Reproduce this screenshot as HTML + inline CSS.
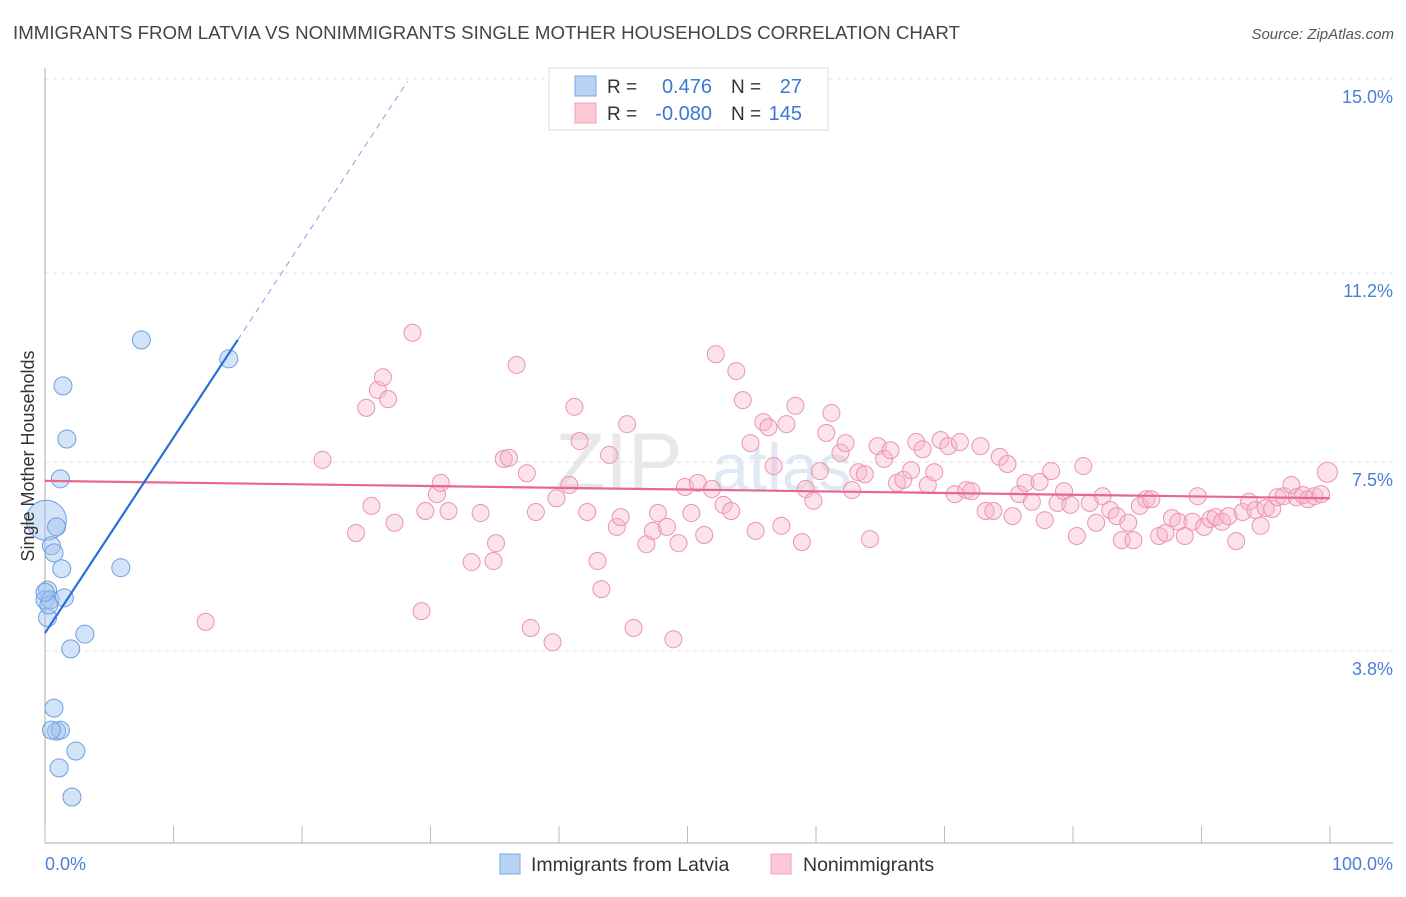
<!DOCTYPE html>
<html><head><meta charset="utf-8"><style>
body{margin:0;background:#fff;font-family:"Liberation Sans",sans-serif;}
svg text{font-family:"Liberation Sans",sans-serif;}
</style></head><body>
<svg id="chart" width="1406" height="892" xmlns="http://www.w3.org/2000/svg">
<text x="13" y="39" font-size="18.7" fill="#444">IMMIGRANTS FROM LATVIA VS NONIMMIGRANTS SINGLE MOTHER HOUSEHOLDS CORRELATION CHART</text>
<text x="1394" y="39" font-size="15" fill="#555" text-anchor="end" font-style="italic">Source: ZipAtlas.com</text>
<text x="555" y="490" font-size="82" fill="#e8e8e8" font-family="Liberation Serif">ZIP</text>
<text x="712" y="490" font-size="66" fill="#dfe8f5">atlas</text>
<g id="grid"></g>
<line x1="45" y1="68" x2="45" y2="843" stroke="#aaa" stroke-width="1"/>
<line x1="45" y1="843" x2="1393" y2="843" stroke="#aaa" stroke-width="1"/>
<g id="xticks"></g>
<g id="pts"></g>
<g id="lines"></g>
<text transform="translate(34,456) rotate(-90)" font-size="18" fill="#333" text-anchor="middle">Single Mother Households</text>
<text x="45" y="870" font-size="18" fill="#4a7fd4">0.0%</text>
<text x="1393" y="870" font-size="18" fill="#4a7fd4" text-anchor="end">100.0%</text>
<g>
<rect x="549" y="68" width="279" height="62" fill="#fff" stroke="#ddd"/>
<rect x="575" y="76" width="21" height="20" fill="#b8d2f4" stroke="#7aa8e4"/>
<rect x="575" y="103" width="21" height="20" fill="#fcc8d6" stroke="#f0a0b8"/>
<text x="607" y="93" font-size="19" fill="#333">R =</text>
<text x="712" y="93" font-size="20" fill="#3a78d8" text-anchor="end">0.476</text>
<text x="731" y="93" font-size="19" fill="#333">N =</text>
<text x="802" y="93" font-size="20" fill="#3a78d8" text-anchor="end">27</text>
<text x="607" y="120" font-size="19" fill="#333">R =</text>
<text x="712" y="120" font-size="20" fill="#3a78d8" text-anchor="end">-0.080</text>
<text x="731" y="120" font-size="19" fill="#333">N =</text>
<text x="802" y="120" font-size="20" fill="#3a78d8" text-anchor="end">145</text>
</g>
<g><rect x="500" y="854" width="20" height="20" fill="#b8d2f4" stroke="#7aa8e4"/><text x="531" y="871" font-size="19.5" fill="#333">Immigrants from Latvia</text></g>
<g><rect x="771" y="854" width="20" height="20" fill="#fcc8d6" stroke="#f0a0b8"/><text x="803" y="871" font-size="19.5" fill="#333">Nonimmigrants</text></g>
</svg>
<script>
const yTicks=[3.8,7.5,11.2,15.0];
const yTickLabels=["3.8%","7.5%","11.2%","15.0%"];
const xTicks=[0,10,20,30,40,50,60,70,80,90,100];
const blueX=[7.5,14.3,1.4,1.7,1.2,0.1,0.9,0.5,0.7,1.3,5.9,0.2,0.0,0.4,1.5,0.2,3.1,2.0,0.7,0.9,1.2,0.5,2.4,1.1,2.1,0.3,0.0];
const blueY=[9.89,9.52,8.99,7.95,7.17,6.36,6.23,5.86,5.72,5.41,5.43,4.99,4.80,4.80,4.84,4.45,4.13,3.84,2.68,2.23,2.25,2.25,1.84,1.51,0.94,4.70,4.95];
const blueR=[9,9,9,9,9,20,9,9,9,9,9,9,9,9,9,9,9,9,9,9,9,9,9,9,9,9,9];
const pinkX=[12.5,21.6,24.2,25.0,25.4,25.9,26.3,26.7,27.2,28.6,29.3,29.6,30.5,30.8,31.4,33.2,33.9,34.9,35.1,35.7,36.1,36.7,37.5,37.8,38.2,39.5,39.8,40.8,41.2,41.6,42.2,43.0,43.3,43.9,44.5,44.8,45.3,45.8,46.8,47.3,47.7,48.4,48.9,49.3,49.8,50.3,50.8,51.3,51.9,52.2,52.8,53.4,53.8,54.3,54.9,55.3,55.9,56.3,56.7,57.3,57.7,58.4,58.9,59.2,59.8,60.3,60.8,61.2,61.9,62.3,62.8,63.3,63.8,64.2,64.8,65.3,65.8,66.3,66.8,67.4,67.8,68.3,68.7,69.2,69.7,70.3,70.8,71.2,71.7,72.1,72.8,73.2,73.8,74.3,74.9,75.3,75.8,76.3,76.8,77.4,77.8,78.3,78.8,79.3,79.8,80.3,80.8,81.3,81.8,82.3,82.9,83.4,83.8,84.3,84.7,85.2,85.7,86.1,86.7,87.2,87.7,88.2,88.7,89.3,89.7,90.2,90.7,91.1,91.6,92.1,92.7,93.2,93.7,94.2,94.6,95.0,95.5,95.9,96.4,97.0,97.4,97.9,98.3,98.8,99.3,99.8];
const pinkY=[4.37,7.54,6.11,8.56,6.64,8.91,9.16,8.73,6.31,10.03,4.58,6.54,6.87,7.09,6.54,5.54,6.50,5.56,5.91,7.56,7.58,9.40,7.28,4.25,6.52,3.97,6.79,7.05,8.58,7.91,6.52,5.56,5.01,7.64,6.23,6.42,8.24,4.25,5.89,6.15,6.50,6.23,4.03,5.91,7.01,6.50,7.09,6.07,6.97,9.61,6.66,6.54,9.28,8.71,7.87,6.15,8.28,8.18,7.42,6.25,8.24,8.60,5.93,6.97,6.74,7.32,8.07,8.46,7.68,7.87,6.95,7.30,7.26,5.99,7.81,7.56,7.73,7.09,7.15,7.34,7.89,7.75,7.05,7.30,7.93,7.81,6.87,7.89,6.95,6.93,7.81,6.54,6.54,7.60,7.46,6.44,6.87,7.09,6.72,7.11,6.36,7.32,6.70,6.93,6.66,6.05,7.42,6.70,6.31,6.83,6.56,6.44,5.97,6.31,5.97,6.64,6.77,6.77,6.05,6.11,6.40,6.33,6.05,6.33,6.83,6.23,6.38,6.42,6.33,6.44,5.95,6.52,6.72,6.56,6.25,6.60,6.58,6.81,6.83,7.05,6.81,6.85,6.77,6.83,6.87,7.30];
const blueTrend=[[0,4.15],[15,9.89]];
const blueTrendExt=[[15,9.89],[28.2,14.95]];
const pinkTrend=[[0,7.13],[100,6.79]];

const NS="http://www.w3.org/2000/svg";
const X0=45,X1=1330,Y0=845,YS=51.07;
const sx=v=>X0+v*(X1-X0)/100;
const sy=v=>Y0-v*YS;
function mk(t,a,p){const e=document.createElementNS(NS,t);for(const k in a)e.setAttribute(k,a[k]);p.appendChild(e);return e;}
const grid=document.getElementById('grid');
yTicks.forEach((v,i)=>{
  const l=mk('line',{x1:45,x2:1393,y1:sy(v),y2:sy(v),stroke:'#e2e2e2','stroke-dasharray':'4,4'},grid);
  
  
  const t=mk('text',{x:1393,y:sy(v)+24,'font-size':18,fill:'#4a7fd4','text-anchor':'end'},grid);
  t.textContent=yTickLabels[i];
  
  
});
const xt=document.getElementById('xticks');
xTicks.forEach(v=>{
  const l=mk('line',{x1:sx(v),x2:sx(v),y1:826,y2:843,stroke:'#bbb'},xt);
  
  
});
const pts=document.getElementById('pts');
pinkX.forEach((v,i)=>{
  const c=mk('circle',{cx:sx(v),cy:sy(pinkY[i]),r:i===pinkX.length-1?10:8.5,fill:'rgba(248,182,202,0.4)',stroke:'#eb94ae','stroke-width':1},pts);
  
  
});
blueX.forEach((v,i)=>{
  const c=mk('circle',{cx:sx(v),cy:sy(blueY[i]),r:blueR[i],fill:'rgba(160,196,240,0.45)',stroke:'#6d9fe0','stroke-width':1},pts);
  
  
});
const ln=document.getElementById('lines');
let l=mk('line',{x1:sx(pinkTrend[0][0]),y1:sy(pinkTrend[0][1]),x2:sx(pinkTrend[1][0]),y2:sy(pinkTrend[1][1]),stroke:'#e8678f','stroke-width':2.2},ln);


l=mk('line',{x1:sx(blueTrend[0][0]),y1:sy(blueTrend[0][1]),x2:sx(blueTrend[1][0]),y2:sy(blueTrend[1][1]),stroke:'#2a6fd6','stroke-width':2.2},ln);


l=mk('line',{x1:sx(blueTrendExt[0][0]),y1:sy(blueTrendExt[0][1]),x2:sx(blueTrendExt[1][0]),y2:sy(blueTrendExt[1][1]),stroke:'#7aa6e4','stroke-width':1,'stroke-dasharray':'6,5'},ln);


</script>
</body></html>
